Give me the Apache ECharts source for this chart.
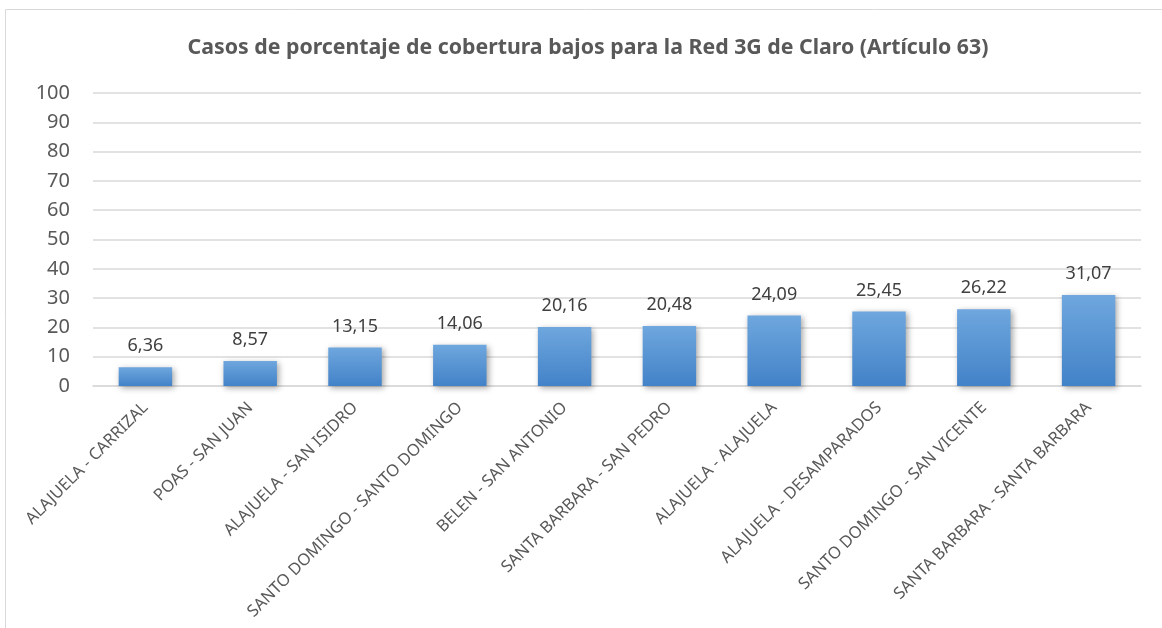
<!DOCTYPE html>
<html>
<head>
<meta charset="utf-8">
<script src="https://cdn.jsdelivr.net/npm/echarts@6/dist/echarts.min.js"></script>
<style>
  html, body { margin: 0; padding: 0; background: #fff; }
  #chart { width: 1162px; height: 628px; }
</style>
</head>
<body>
<div id="chart"></div>
<script>
const categories = [
  'ALAJUELA - CARRIZAL',
  'POAS - SAN JUAN',
  'ALAJUELA - SAN ISIDRO',
  'SANTO DOMINGO - SANTO DOMINGO',
  'BELEN - SAN ANTONIO',
  'SANTA BARBARA - SAN PEDRO',
  'ALAJUELA - ALAJUELA',
  'ALAJUELA - DESAMPARADOS',
  'SANTO DOMINGO - SAN VICENTE',
  'SANTA BARBARA - SANTA BARBARA'
];
const coverage = [6.36, 8.57, 13.15, 14.06, 20.16, 20.48, 24.09, 25.45, 26.22, 31.07];
const titleText = 'Casos de porcentaje de cobertura bajos para la Red 3G de Claro (Artículo 63)';

const chart = echarts.init(document.getElementById('chart'));
const font = 'Noto Sans';

const option = {
  animation: false,
  textStyle: { fontFamily: font },
  title: {
    text: titleText,
    left: 583,
    textAlign: 'center',
    top: 32,
    textStyle: { fontFamily: font, fontSize: 21.3, fontWeight: 'bold', color: '#595959' }
  },
  // chart border
  graphic: [{
    type: 'rect',
    silent: true,
    shape: { x: 5.5, y: 9.5, width: 1200, height: 700 },
    style: { fill: 'none', stroke: '#d9d9d9', lineWidth: 1 }
  }],
  grid: { left: 93, right: 21, top: 93, bottom: 242, containLabel: false },
  xAxis: {
    type: 'category',
    data: categories,
    axisLine: { lineStyle: { color: '#d9d9d9', width: 1.5 } },
    axisTick: { show: false },
    axisLabel: {
      interval: 0,
      rotate: 45,
      margin: 19,
      fontSize: 16.5,
      color: '#595959',
      fontFamily: font
    }
  },
  yAxis: {
    type: 'value',
    min: 0,
    max: 100,
    interval: 10,
    axisLine: { show: false },
    axisTick: { show: false },
    splitLine: { lineStyle: { color: '#d9d9d9', width: 1.5 } },
    axisLabel: { fontSize: 20, color: '#595959', margin: 23, fontFamily: font }
  },
  series: [{
    type: 'bar',
    data: coverage,
    barWidth: '51%',
    itemStyle: {
      color: new echarts.graphic.LinearGradient(0, 0, 0, 1, [
        { offset: 0, color: '#6fa7de' },
        { offset: 1, color: '#4282c8' }
      ]),
      shadowColor: 'rgba(0,0,0,0.35)',
      shadowBlur: 6,
      shadowOffsetX: 2,
      shadowOffsetY: 2
    },
    label: {
      show: true,
      position: 'top',
      distance: 12,
      fontSize: 18,
      color: '#404040',
      fontFamily: font,
      formatter: p => p.value.toFixed(2).replace('.', ',')
    }
  }]
};
chart.setOption(option);
</script>
</body>
</html>
